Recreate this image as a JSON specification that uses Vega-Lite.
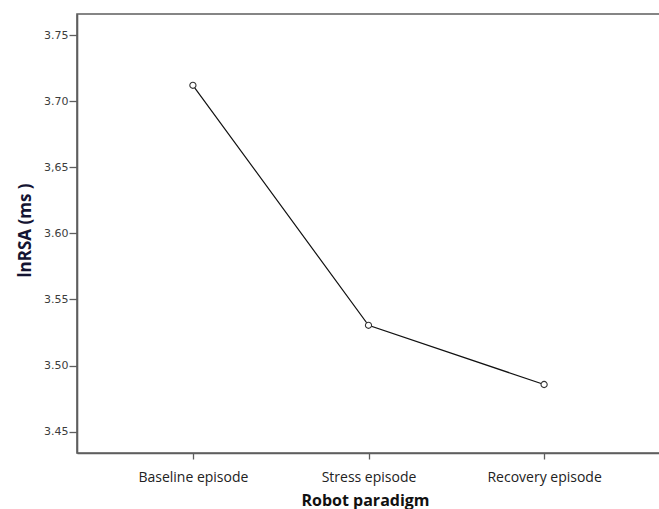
{
  "$schema": "https://vega.github.io/schema/vega-lite/v6.json",
  "autosize": "none",
  "padding": {"left": 77, "top": 14, "right": 0, "bottom": 56},
  "width": 583,
  "height": 439,
  "background": "white",
  "config": {
    "view": {"stroke": "#5e5e5e", "strokeWidth": 1.6}
  },
  "data": {
    "values": [
      {"episode": "Baseline episode", "lnRSA": 3.712},
      {"episode": "Stress episode", "lnRSA": 3.5305},
      {"episode": "Recovery episode", "lnRSA": 3.4857}
    ]
  },
  "encoding": {
    "x": {
      "field": "episode",
      "type": "nominal",
      "sort": null,
      "scale": {"type": "point", "padding": 0.66},
      "axis": {
        "title": "Robot paradigm",
        "titleFont": "Open Sans",
        "titleFontSize": 16,
        "titleFontWeight": "bold",
        "titleColor": "#111111",
        "titleBaseline": "alphabetic",
        "titleY": 52,
        "titleX": 288,
        "labelAngle": 0,
        "labelFont": "Open Sans",
        "labelFontSize": 14,
        "labelColor": "#222222",
        "labelBaseline": "alphabetic",
        "labelPadding": 22,
        "tickSize": 6,
        "tickColor": "#5e5e5e",
        "tickWidth": 1.3,
        "domainColor": "#5e5e5e",
        "domainWidth": 1.6,
        "grid": false
      }
    },
    "y": {
      "field": "lnRSA",
      "type": "quantitative",
      "scale": {"domain": [3.4339, 3.7659], "nice": false, "zero": false},
      "axis": {
        "title": "lnRSA (ms )",
        "titleFont": "Open Sans",
        "titleFontSize": 17,
        "titleFontWeight": "bold",
        "titleColor": "#141432",
        "titleAngle": -90,
        "titleAlign": "center",
        "titleBaseline": "alphabetic",
        "titleX": -47,
        "titleY": 216,
        "values": [3.45, 3.5, 3.55, 3.6, 3.65, 3.7, 3.75],
        "labelExpr": "abs(datum.value - 3.65) < 0.001 ? '3,65' : format(datum.value, '.2f')",
        "labelFont": "DejaVu Sans",
        "labelFontSize": 11,
        "labelColor": "#3c3c3c",
        "labelPadding": 1,
        "tickSize": 8,
        "tickColor": "#5e5e5e",
        "tickWidth": 1.3,
        "domainColor": "#5e5e5e",
        "domainWidth": 1.6,
        "grid": false
      }
    }
  },
  "layer": [
    {"mark": {"type": "line", "color": "#111111", "strokeWidth": 1.2}},
    {"mark": {"type": "point", "shape": "circle", "filled": false, "size": 38, "stroke": "#333333", "strokeWidth": 1.1, "fill": "white", "fillOpacity": 1, "opacity": 1}}
  ]
}
